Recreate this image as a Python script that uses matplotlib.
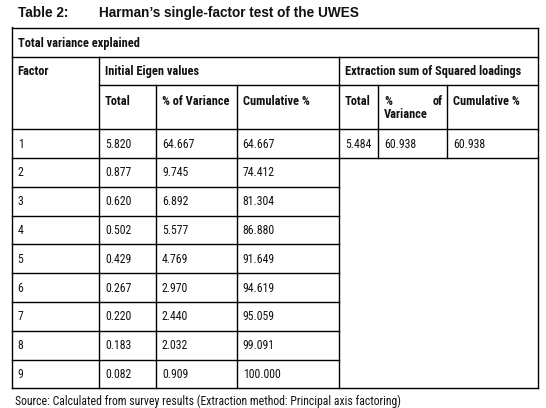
import matplotlib
matplotlib.use("Agg")
import matplotlib.pyplot as plt
import numpy as np

# table values
factors = ["1", "2", "3", "4", "5", "6", "7", "8", "9"]
init_total = ["5.820", "0.877", "0.620", "0.502", "0.429", "0.267", "0.220", "0.183", "0.082"]
init_pct = ["64.667", "9.745", "6.892", "5.577", "4.769", "2.970", "2.440", "2.032", "0.909"]
init_cum = ["64.667", "74.412", "81.304", "86.880", "91.649", "94.619", "95.059", "99.091", "100.000"]
extr_total = ["5.484"]
extr_pct = ["60.938"]
extr_cum = ["60.938"]

title_num = "Table 2:"
title_txt = "Harman\u2019s single-factor test of the UWES"
source_txt = "Source: Calculated from survey results (Extraction method: Principal axis factoring)"

W, H = 546, 408
fig = plt.figure(figsize=(W / 100, H / 100), dpi=100)
ax = fig.add_axes([0, 0, 1, 1])
ax.set_xlim(0, W)
ax.set_ylim(H, 0)
ax.axis("off")

narrow = ["Roboto Condensed", "DejaVu Sans"]
wide = ["Liberation Sans", "DejaVu Sans"]
fs = 8.45     # body
fsb = 8.9     # bold headers
tc = "#111111"

# layout (pixels)
cx = [11.7, 99, 156, 236.7, 338.8, 378, 447, 537.5]
y_top, y_t, y_h1, y_h2 = 28.3, 56.7, 85, 129.3
rh = 28.78
ry = [y_h2 + i * rh for i in range(len(factors) + 1)]
lw = 1.0

def hl(y, x0, x1):
    ax.plot([x0, x1], [y, y], color="black", lw=lw, solid_capstyle="projecting")

def vl(x, y0, y1):
    ax.plot([x, x], [y0, y1], color="black", lw=lw, solid_capstyle="projecting")

# outer frame and grid
hl(y_top, cx[0], cx[-1])
hl(ry[-1], cx[0], cx[-1])
vl(cx[0], y_top - 1.5, ry[-1])
vl(cx[-1], y_top, ry[-1])
hl(y_t, cx[0], cx[-1])
hl(y_h1, cx[1], cx[-1])
hl(y_h2, cx[0], cx[-1])
hl(ry[1], cx[0], cx[-1])
for y in ry[2:-1]:
    hl(y, cx[0], cx[4])
vl(cx[1], y_t, ry[-1])
vl(cx[4], y_t, ry[-1])
vl(cx[2], y_h1, ry[-1])
vl(cx[3], y_h1, ry[-1])
vl(cx[5], y_h1, ry[1])
vl(cx[6], y_h1, ry[1])

def txt(x, y, s, bold=False, ha="left", fam=narrow, size=None):
    if size is None:
        size = fsb if bold else fs
    ax.text(x, y, s, ha=ha, va="center", fontsize=size, family=fam,
            fontweight="bold" if bold else "normal", color=tc)

# title + source
ax.text(18.3, 13, title_num, ha="left", va="center", fontsize=9.8, family=wide,
        fontweight="bold", color=tc)
ax.text(99.3, 13, title_txt, ha="left", va="center", fontsize=9.8, family=wide,
        fontweight="bold", color=tc)
txt(15, 401, source_txt)

# header cells
pad = 6
txt(cx[0] + pad, (y_top + y_t) / 2 + 0.5, "Total variance explained", bold=True)
txt(cx[0] + pad, (y_t + y_h1) / 2 + 0.5, "Factor", bold=True)
txt(cx[1] + pad, (y_t + y_h1) / 2 + 0.5, "Initial Eigen values", bold=True)
txt(cx[4] + pad, (y_t + y_h1) / 2 + 0.5, "Extraction sum of Squared loadings", bold=True)
yh = 101.2
txt(cx[1] + pad, yh, "Total", bold=True)
txt(cx[2] + pad, yh, "% of Variance", bold=True)
txt(cx[3] + pad, yh, "Cumulative %", bold=True)
txt(cx[4] + pad, yh, "Total", bold=True)
txt(cx[5] + pad, yh, "%", bold=True)
txt(cx[6] - 4.5, yh, "of", bold=True, ha="right")
txt(cx[5] + pad, yh + 13.3, "Variance", bold=True)
txt(cx[6] + pad, yh, "Cumulative %", bold=True)

# body
for i, f in enumerate(factors):
    yc = (ry[i] + ry[i + 1]) / 2 + 0.5
    txt(cx[0] + pad, yc, f)
    txt(cx[1] + pad, yc, init_total[i])
    txt(cx[2] + pad, yc, init_pct[i])
    txt(cx[3] + pad, yc, init_cum[i])
for i in range(len(extr_total)):
    yc = (ry[i] + ry[i + 1]) / 2 + 0.5
    txt(cx[4] + pad, yc, extr_total[i])
    txt(cx[5] + pad, yc, extr_pct[i])
    txt(cx[6] + pad, yc, extr_cum[i])

fig.savefig("out.png", dpi=100, facecolor="white")
